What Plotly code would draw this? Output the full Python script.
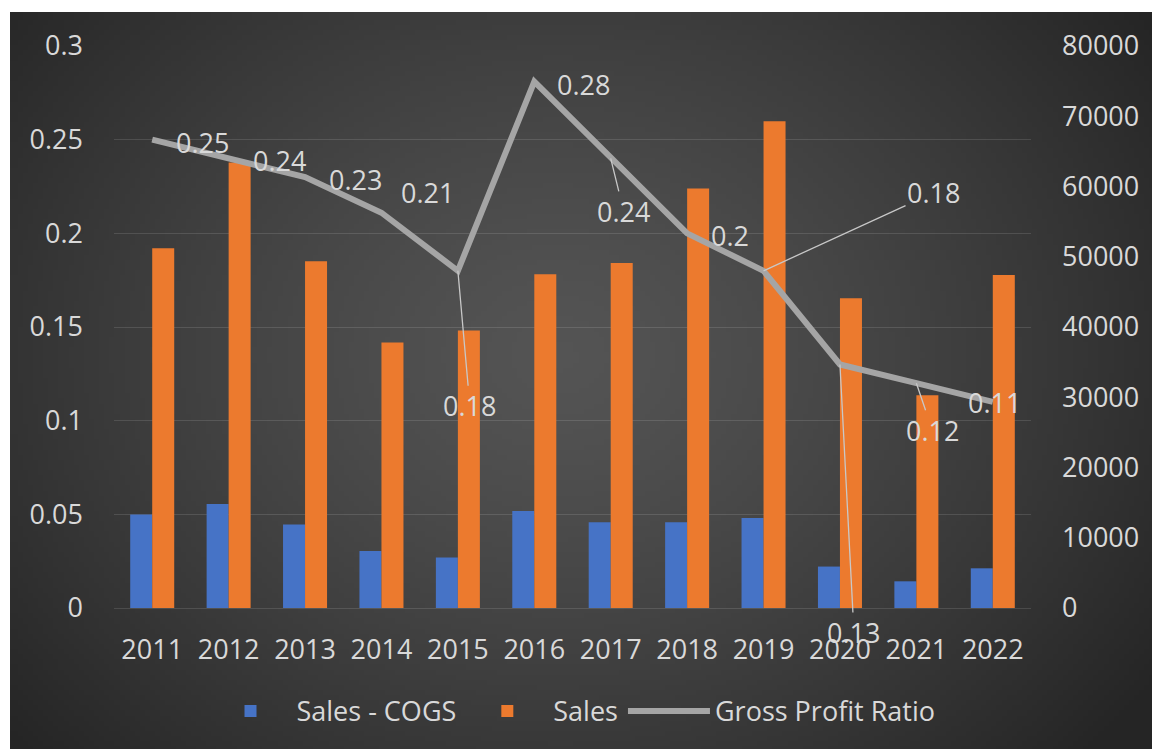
import plotly.graph_objects as go
import zlib, struct, base64, math

# ---------------- data ----------------
years = ["2011", "2012", "2013", "2014", "2015", "2016",
         "2017", "2018", "2019", "2020", "2021", "2022"]
sales_minus_cogs = [13300, 14800, 11900, 8100, 7200, 13800,
                    12200, 12200, 12800, 5900, 3800, 5650]
sales = [51200, 63400, 49350, 37800, 39500, 47500,
         49100, 59700, 69300, 44100, 30300, 47400]
gross_profit_ratio = [0.25, 0.24, 0.23, 0.211, 0.18, 0.281,
                      0.24, 0.2, 0.18, 0.13, 0.12, 0.11]
left_ticks = [0, 0.05, 0.1, 0.15, 0.2, 0.25, 0.3]
right_ticks = [0, 10000, 20000, 30000, 40000, 50000, 60000, 70000, 80000]

# ---------------- styles ----------------
TXT = "#d9d9d9"
FONT = "Open Sans"
FS = 27
BLUE = "#4673c6"
ORANGE = "#ec7a2e"
GRAY = "#a5a5a5"
EDGE = "#262626"

W, H = 1152, 749
ML, MT, MR, MB = 114, 46, 121, 141
PW, PH = W - ML - MR, H - MT - MB

# label placement per point: ("right", xshift, yshift) / ("center", xshift, yshift) / ("leader", ax, ay)
label_style = [
    ("right", 22, -3), ("right", 22, -2), ("right", 22, -2), ("right", 18, 20),
    ("leader", 12, 135), ("right", 21, -3), ("leader", 13, 53), ("right", 22, -2),
    ("leader", 170, -78), ("leader", 14, 268), ("leader", 16, 47), ("center", 2, -1),
]


# ---------------- background gradient image ----------------
def make_png(w, h, rows):
    raw = b"".join(b"\x00" + bytes(r) for r in rows)

    def chunk(t, d):
        return struct.pack(">I", len(d)) + t + d + struct.pack(">I", zlib.crc32(t + d) & 0xffffffff)

    return (b"\x89PNG\r\n\x1a\n" + chunk(b"IHDR", struct.pack(">IIBBBBB", w, h, 8, 2, 0, 0, 0))
            + chunk(b"IDAT", zlib.compress(raw, 9)) + chunk(b"IEND", b""))


gw, gh = 228, 148
cx, cy = 0.47 * gw, 0.45 * gh
rx, ry = 0.62 * gw, 0.78 * gh
c0, c1 = 84, 37
rows = []
for j in range(gh):
    row = []
    for i in range(gw):
        d = math.sqrt(((i - cx) / rx) ** 2 + ((j - cy) / ry) ** 2)
        t = min(d, 1.0) ** 1.3
        v = int(round(c0 + (c1 - c0) * t))
        row += [v, v, v]
    rows.append(row)
bg_uri = "data:image/png;base64," + base64.b64encode(make_png(gw, gh, rows)).decode()

# ---------------- figure ----------------
fig = go.Figure()
fig.add_trace(go.Bar(x=years, y=sales_minus_cogs, name="Sales - COGS",
                     marker=dict(color=BLUE, line=dict(width=0)), yaxis="y"))
fig.add_trace(go.Bar(x=years, y=sales, name="Sales",
                     marker=dict(color=ORANGE, line=dict(width=0)), yaxis="y"))
fig.add_trace(go.Scatter(x=years, y=gross_profit_ratio, name="Gross Profit Ratio",
                         mode="lines", line=dict(color=GRAY, width=6), yaxis="y2"))


def fmt(v):
    s = "%.2f" % v
    return s.rstrip("0").rstrip(".")


for idx, (v, st) in enumerate(zip(gross_profit_ratio, label_style)):
    kind, a, b = st
    common = dict(x=idx, y=v, xref="x", yref="y2", text=fmt(v),
                  font=dict(family=FONT, size=FS, color=TXT))
    if kind == "leader":
        fig.add_annotation(**common, showarrow=True, arrowhead=0, arrowwidth=1.3,
                           arrowcolor="#c8c8c8", ax=a, ay=b, standoff=0)
    else:
        fig.add_annotation(**common, showarrow=False,
                           xanchor="left" if kind == "right" else "center",
                           yanchor="middle", xshift=a, yshift=b)


def px_x(p):
    return (p - ML) / PW


def px_y(p):
    return (H - MB - p) / PH


bg_left, bg_top = 10, 12
fig.add_layout_image(dict(source=bg_uri, xref="paper", yref="paper",
                          x=px_x(bg_left), y=px_y(bg_top),
                          sizex=(W + 20 - bg_left) / PW, sizey=(H + 20 - bg_top) / PH,
                          xanchor="left", yanchor="top", sizing="stretch",
                          layer="below", opacity=1))
# white page strips at the top and left of the dark chart frame
fig.add_shape(type="rect", xref="paper", yref="paper", layer="below",
              x0=px_x(-2), x1=px_x(W + 2), y0=px_y(bg_top), y1=px_y(-2),
              fillcolor="white", line=dict(width=0))
fig.add_shape(type="rect", xref="paper", yref="paper", layer="below",
              x0=px_x(-2), x1=px_x(bg_left), y0=px_y(H + 2), y1=px_y(-2),
              fillcolor="white", line=dict(width=0))

fig.update_layout(
    width=W, height=H,
    margin=dict(l=ML, r=MR, t=MT, b=MB, autoexpand=False),
    paper_bgcolor=EDGE, plot_bgcolor="rgba(0,0,0,0)",
    barmode="group", bargap=0.424, bargroupgap=0,
    font=dict(family=FONT, size=FS, color=TXT),
    showlegend=True,
    legend=dict(orientation="h", x=0.5, xanchor="center", y=-0.184, yanchor="middle",
                bgcolor="rgba(0,0,0,0)", font=dict(family=FONT, size=FS, color=TXT),
                itemwidth=82, traceorder="normal"),
    xaxis=dict(type="category", categoryorder="array", categoryarray=years,
               range=[-0.5, len(years) - 0.5], autorange=False,
               showgrid=False, zeroline=False, showline=False,
               ticks="", tickfont=dict(family=FONT, size=FS, color=TXT),
               ticklabelstandoff=23),
    yaxis=dict(side="right", range=[0, 80000], tickvals=right_ticks, tickformat="d",
               showgrid=False, zeroline=False, showline=False, ticks="",
               tickfont=dict(family=FONT, size=FS, color=TXT), ticklabelstandoff=30),
    yaxis2=dict(side="left", overlaying="y", range=[0, 0.3], tickvals=left_ticks,
                showgrid=True, gridcolor="rgba(255,255,255,0.12)", gridwidth=1,
                zeroline=True, zerolinecolor="rgba(255,255,255,0.12)", zerolinewidth=1,
                showline=False, ticks="",
                tickfont=dict(family=FONT, size=FS, color=TXT), ticklabelstandoff=30),
)

fig.write_html("out.html", config={"displayModeBar": False},
               post_script="document.body.style.margin='0';"
                           "document.documentElement.style.overflow='hidden';")
